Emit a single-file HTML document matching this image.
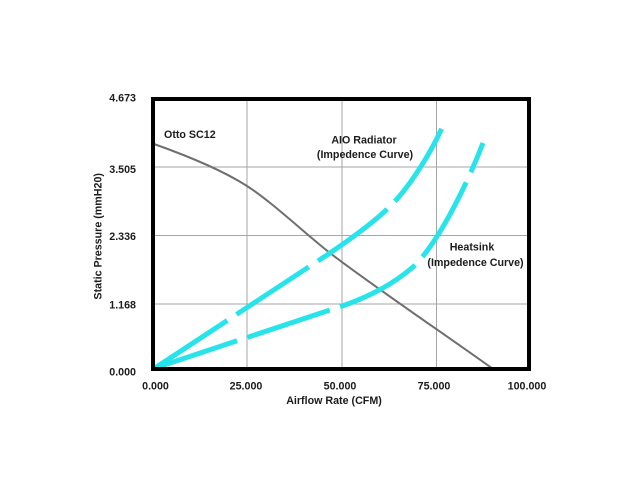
<!DOCTYPE html>
<html>
<head>
<meta charset="utf-8">
<style>
  html, body { margin:0; padding:0; background:#ffffff; }
  svg { display:block; }
  text { font-family: "Liberation Sans", sans-serif; font-weight: bold; font-size: 10.7px; fill: #1c1c1c; }
</style>
</head>
<body>
<svg width="640" height="480" viewBox="0 0 640 480" xmlns="http://www.w3.org/2000/svg">
  <rect x="0" y="0" width="640" height="480" fill="#ffffff"/>
  <!-- gridlines -->
  <g stroke="#a6a6a6" stroke-width="1">
    <line x1="247" y1="99" x2="247" y2="369"/>
    <line x1="342" y1="99" x2="342" y2="369"/>
    <line x1="436.5" y1="99" x2="436.5" y2="369"/>
    <line x1="153" y1="167" x2="529" y2="167"/>
    <line x1="153" y1="235.5" x2="529" y2="235.5"/>
    <line x1="153" y1="304" x2="529" y2="304"/>
  </g>
  <!-- Otto SC12 curve -->
  <path fill="none" stroke="#6f6f6f" stroke-width="2" stroke-linejoin="round"
    d="M154,144 C185,155 222,170 247,186 C272,202 305,233.5 330,253 C370,284 450,338 493,369"/>
  <!-- AIO Radiator impedance curve -->
  <path fill="none" stroke="#27e4eb" stroke-width="5" stroke-dasharray="86.5 11"
    d="M155,368 L330,253 C355,236 380,218 397,199 C414,180 432,150 442,128"/>
  <!-- Heatsink impedance curve -->
  <path fill="none" stroke="#27e4eb" stroke-width="5" stroke-dasharray="86.5 11"
    d="M155,368 L330,310 C360,301 390,287 413,267 C435,247 465,190 483,143"/>
  <!-- frame -->
  <rect x="153" y="99" width="376" height="270" fill="none" stroke="#000000" stroke-width="4"/>

  <!-- y tick labels -->
  <g text-anchor="end">
    <text x="136" y="101.5">4.673</text>
    <text x="136" y="173">3.505</text>
    <text x="136" y="240">2.336</text>
    <text x="136" y="308.5">1.168</text>
    <text x="136" y="375.5">0.000</text>
  </g>
  <!-- x tick labels -->
  <g text-anchor="middle">
    <text x="155.5" y="389.7">0.000</text>
    <text x="246" y="389.7">25.000</text>
    <text x="340" y="389.7">50.000</text>
    <text x="434" y="389.7">75.000</text>
    <text x="527" y="389.7">100.000</text>
    <text x="334" y="404">Airflow Rate (CFM)</text>
    <text x="0" y="0" transform="translate(101.5,236.3) rotate(-90)">Static Pressure (mmH20)</text>
    <text x="364" y="143.5">AIO Radiator</text>
    <text x="365" y="158">(Impedence Curve)</text>
    <text x="472" y="250.5">Heatsink</text>
    <text x="475.5" y="266">(Impedence Curve)</text>
  </g>
  <text x="164" y="138">Otto SC12</text>
</svg>
</body>
</html>
